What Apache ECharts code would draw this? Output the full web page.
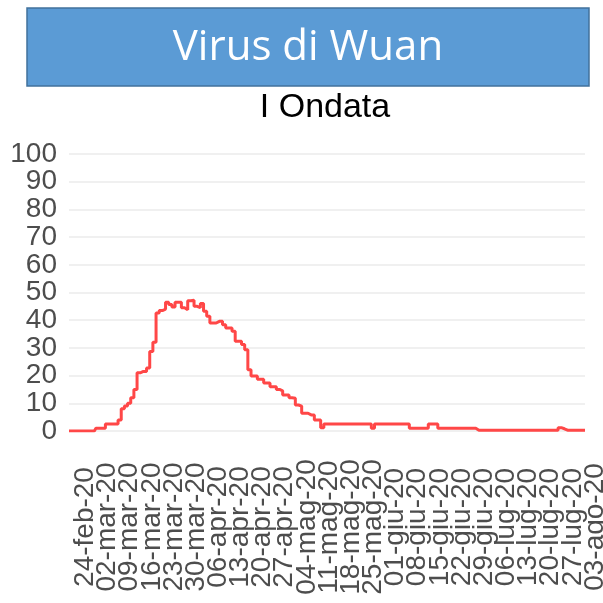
<!DOCTYPE html>
<html>
<head>
<meta charset="utf-8">
<title>Virus di Wuan</title>
<script src="https://cdn.jsdelivr.net/npm/echarts@6/dist/echarts.min.js"></script>
<style>
  html, body { margin: 0; padding: 0; background: #fff; }
  #chart { width: 603px; height: 603px; }
</style>
</head>
<body>
<div id="chart"></div>
<script>
// daily values, 22-feb-20 .. 03-ago-20
const values = [
  0, 0, 0, 0, 0, 0, 0, 0, 0, 1, 1, 1, 2.5, 2.5, 2.5, 2.5,
  4, 8, 9, 10, 12, 15, 21, 21.5, 21.5, 22.7,
  28.7, 32, 42.6, 43.5, 44, 46.5, 45.7, 44.8, 46.5, 46.5,
  44.5, 43.8, 47, 47.2, 45, 44.5, 46, 43.2, 41.4, 39,
  39, 39.6, 39.6, 38.4, 37.2, 37.2, 36, 32.4, 32.4, 31.2,
  29.3, 22.1, 19.9, 19.9, 18.7, 18.7, 17.3, 17.3, 16, 16,
  15, 14.5, 13, 13, 12, 11.8, 9.4, 9, 6.4, 6.4,
  5.8, 5.8, 4, 4, 1.2,
  2.5, 2.5, 2.5, 2.5, 2.5, 2.5, 2.5, 2.5, 2.5, 2.5, 2.5, 2.5, 2.5, 2.5, 2.5,
  1,
  2.5, 2.5, 2.5, 2.5, 2.5, 2.5, 2.5, 2.5, 2.5, 2.5, 2.5,
  1, 1, 1, 1, 1, 1,
  2.5, 2.5, 2.5,
  1, 1, 1, 1, 1, 1, 1, 1, 1, 1, 1, 1,
  0.3, 0.3, 0.3, 0.3, 0.3, 0.3, 0.3, 0.3, 0.3, 0.3, 0.3, 0.3, 0.3,
  0.3, 0.3, 0.3, 0.3, 0.3, 0.3, 0.3, 0.3, 0.3, 0.3, 0.3, 0.3, 0.3,
  1.2, 0.8,
  0.3, 0.3, 0.3, 0.3, 0.3, 0.3, 0.3
]

const tickLabels = [
  '24-feb-20', '02-mar-20', '09-mar-20', '16-mar-20', '23-mar-20', '30-mar-20',
  '06-apr-20', '13-apr-20', '20-apr-20', '27-apr-20', '04-mag-20', '11-mag-20',
  '18-mag-20', '25-mag-20', '01-giu-20', '08-giu-20', '15-giu-20', '22-giu-20',
  '29-giu-20', '06-lug-20', '13-lug-20', '20-lug-20', '27-lug-20', '03-ago-20'
]

const yTicks = [0, 10, 20, 30, 40, 50, 60, 70, 80, 90, 100]

const mesi = ['gen', 'feb', 'mar', 'apr', 'mag', 'giu', 'lug', 'ago', 'set', 'ott', 'nov', 'dic']

// one category per day, starting 22-feb-20
const days = values.map((v, i) => {
  const d = new Date(Date.UTC(2020, 1, 22 + i))
  const dd = String(d.getUTCDate()).padStart(2, '0')
  return dd + '-' + mesi[d.getUTCMonth()] + '-20'
})

const labelFont = {
  color: '#4D4D4D',
  fontFamily: '"Liberation Sans", Arial',
  fontSize: 28
}

// y labels are split over two overlaid axes (even / odd ticks) so that
// none of them gets dropped by the min/max overlap check
const yAxisBase = {
  type: 'value',
  position: 'left',
  min: yTicks[0],
  max: yTicks[yTicks.length - 1],
  interval: 10,
  axisLine: { show: false },
  axisTick: { show: false }
}

const chart = echarts.init(document.getElementById('chart'))

const option = {
  animation: false,
  graphic: [
    {
      type: 'rect',
      shape: { x: 27, y: 8, width: 562, height: 78 },
      style: { fill: '#5B9BD5', stroke: '#41719C', lineWidth: 1.5 }
    },
    {
      type: 'text',
      x: 308,
      y: 48,
      style: {
        text: 'Virus di Wuan',
        fill: '#fff',
        font: '42px "Open Sans"',
        align: 'center',
        verticalAlign: 'middle'
      }
    },
    {
      type: 'text',
      x: 325,
      y: 108,
      style: {
        text: 'I Ondata',
        fill: '#000',
        font: '34px "Liberation Sans", Arial',
        align: 'center',
        verticalAlign: 'middle'
      }
    }
  ],
  grid: { left: 69, right: 18, top: 154, bottom: 172, containLabel: false, outerBoundsMode: 'none' },
  xAxis: {
    type: 'category',
    data: days,
    boundaryGap: false,
    axisLine: { show: false },
    axisTick: { show: false },
    splitLine: { show: false },
    axisLabel: {
      interval: 0,
      formatter: (value) => (tickLabels.includes(value) ? value : ''),
      hideOverlap: false,
      rotate: 90,
      align: 'center',
      verticalAlign: 'top',
      lineHeight: 20,
      margin: 96,
      ...labelFont
    }
  },
  yAxis: [
    {
      ...yAxisBase,
      splitLine: { lineStyle: { color: '#EBEBEB', width: 1.5 } },
      axisLabel: {
        formatter: (v) => (v % 20 === 0 ? String(v) : ''),
        showMinLabel: true,
        showMaxLabel: true,
        hideOverlap: false,
        margin: 12,
        ...labelFont
      }
    },
    {
      ...yAxisBase,
      splitLine: { show: false },
      axisLabel: {
        formatter: (v) => (v % 20 === 10 ? String(v) : ''),
        hideOverlap: false,
        margin: 12,
        ...labelFont
      }
    }
  ],
  series: [
    {
      type: 'line',
      data: values,
      step: 'middle',
      symbol: 'none',
      lineStyle: { color: '#FF4747', width: 3 }
    }
  ]
}

chart.setOption(option)
</script>
</body>
</html>
